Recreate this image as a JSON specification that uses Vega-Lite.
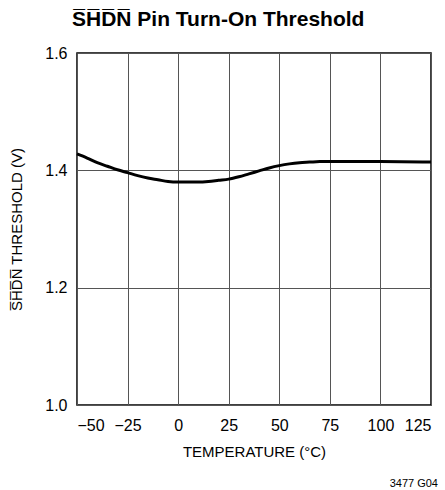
{
  "$schema": "https://vega.github.io/schema/vega-lite/v6.json",
  "width": 354,
  "height": 352,
  "autosize": {"type": "none"},
  "padding": {"left": 77, "top": 53, "right": 14, "bottom": 85},
  "background": "white",
  "title": {
    "text": "S\u0305H\u0305D\u0305N\u0305 Pin Turn-On Threshold",
    "anchor": "start",
    "frame": "group",
    "dx": -5,
    "offset": 15,
    "font": "Liberation Sans",
    "fontSize": 21,
    "fontWeight": "bold",
    "color": "black"
  },
  "config": {
    "view": {"stroke": "black", "strokeWidth": 1.5},
    "axis": {
      "labelFont": "Liberation Sans",
      "titleFont": "Liberation Sans",
      "labelFontSize": 16,
      "titleFontSize": 15,
      "titleFontWeight": "normal",
      "labelColor": "black",
      "titleColor": "black",
      "domain": false,
      "ticks": false,
      "gridColor": "#555555",
      "gridWidth": 1,
      "gridOpacity": 1
    }
  },
  "layer": [
    {
      "data": {
        "values": [
          {"temp": -50, "threshold": 1.428},
          {"temp": -45, "threshold": 1.421},
          {"temp": -40, "threshold": 1.413},
          {"temp": -35, "threshold": 1.407},
          {"temp": -30, "threshold": 1.401},
          {"temp": -25, "threshold": 1.396},
          {"temp": -20, "threshold": 1.391},
          {"temp": -15, "threshold": 1.387},
          {"temp": -10, "threshold": 1.384},
          {"temp": -5, "threshold": 1.381},
          {"temp": 0, "threshold": 1.380},
          {"temp": 5, "threshold": 1.380},
          {"temp": 10, "threshold": 1.380},
          {"temp": 15, "threshold": 1.381},
          {"temp": 20, "threshold": 1.383},
          {"temp": 25, "threshold": 1.385},
          {"temp": 30, "threshold": 1.389},
          {"temp": 35, "threshold": 1.394},
          {"temp": 40, "threshold": 1.399},
          {"temp": 45, "threshold": 1.404},
          {"temp": 50, "threshold": 1.408},
          {"temp": 55, "threshold": 1.411},
          {"temp": 60, "threshold": 1.413},
          {"temp": 65, "threshold": 1.414},
          {"temp": 70, "threshold": 1.415},
          {"temp": 75, "threshold": 1.415},
          {"temp": 100, "threshold": 1.415},
          {"temp": 125, "threshold": 1.414}
        ]
      },
      "mark": {"type": "line", "color": "black", "strokeWidth": 3, "interpolate": "monotone"},
      "encoding": {
        "x": {
          "field": "temp",
          "type": "quantitative",
          "scale": {"domain": [-50, 125], "nice": false},
          "axis": {
            "values": [-50, -25, 0, 25, 50, 75, 100, 125],
            "title": "TEMPERATURE (°C)",
            "labelPadding": 12,
            "titlePadding": 11
          }
        },
        "y": {
          "field": "threshold",
          "type": "quantitative",
          "scale": {"domain": [1.0, 1.6], "nice": false, "zero": false},
          "axis": {
            "values": [1.0, 1.2, 1.4, 1.6],
            "format": ".1f",
            "title": "S\u0305H\u0305D\u0305N\u0305 THRESHOLD (V)",
            "labelPadding": 10,
            "titlePadding": 20
          }
        }
      }
    },
    {
      "data": {"values": [{"t": 125, "v": 1.0, "label": "3477 G04"}]},
      "mark": {"type": "text", "align": "right", "baseline": "middle", "dx": 7, "dy": 79, "fontSize": 11, "font": "Liberation Sans", "color": "black"},
      "encoding": {
        "x": {"field": "t", "type": "quantitative"},
        "y": {"field": "v", "type": "quantitative"},
        "text": {"field": "label"}
      }
    }
  ]
}
